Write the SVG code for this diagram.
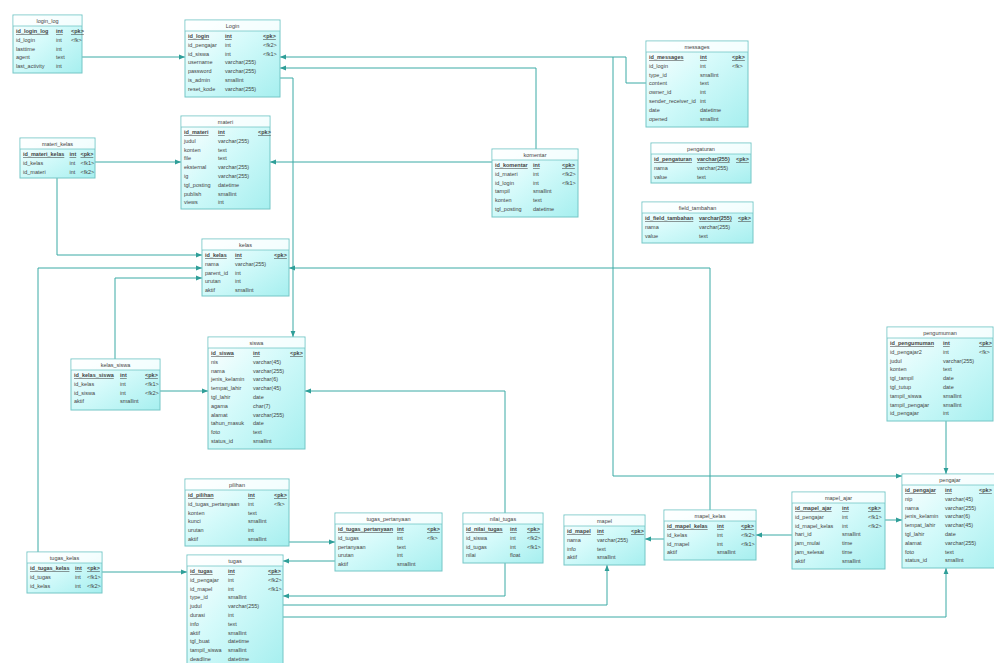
<svg xmlns="http://www.w3.org/2000/svg" width="994" height="663" viewBox="0 0 994 663">
<style>
.tb rect.box{fill:url(#g);stroke:#74c6c6;stroke-width:1}
.tb rect.hd{fill:#ffffff;fill-opacity:0.75;stroke:none}
.tb line{stroke:#74c6c6;stroke-width:0.8}
.tb text{font-family:"Liberation Sans",Arial,sans-serif;font-size:5.5px;fill:#444444}
.tb text.ttl{text-anchor:middle}
.tb text.pk{text-decoration:underline;font-weight:bold}
.conn path{fill:none;stroke:#3aaaa5;stroke-width:1;marker-end:url(#arr)}
</style>
<defs>
<linearGradient id="g" x1="0" y1="0" x2="1" y2="1">
<stop offset="0" stop-color="#ffffff"/>
<stop offset="0.45" stop-color="#d4fafa"/>
<stop offset="1" stop-color="#a6efef"/>
</linearGradient>
<marker id="arr" viewBox="0 0 10 10" refX="10" refY="5" markerWidth="6" markerHeight="6" markerUnits="userSpaceOnUse" orient="auto">
<path d="M0,1 L10,5 L0,9 z" fill="#2f9e98"/>
</marker>
</defs>
<rect width="994" height="663" fill="#ffffff"/>

<g class="conn" id="connectors">
<path d="M82,57 H185"/>
<path d="M646,83 H626 V57 H280"/>
<path d="M536,149 V68 H280"/>
<path d="M280,78 H293 V337"/>
<path d="M613,57 V476 H902"/>
<path d="M95,162 H181"/>
<path d="M492,162 H270"/>
<path d="M57,178 V255 H202"/>
<path d="M38,552 V268 H202"/>
<path d="M115,359 V278 H202"/>
<path d="M710,510 V268 H289"/>
<path d="M160,391 H208"/>
<path d="M505,513 V391 H305"/>
<path d="M289,542 H335"/>
<path d="M335,561 H283"/>
<path d="M102,572 H187"/>
<path d="M505,563 V596 H283"/>
<path d="M283,605 H607 V565"/>
<path d="M283,617 H946 V568"/>
<path d="M664,539 H645"/>
<path d="M792,535 H756"/>
<path d="M885,520 H902"/>
<path d="M946,421 V474"/>
</g>

<g class="tb" id="login_log">
<rect class="box" x="13" y="15" width="69" height="58"/>
<rect class="hd" x="13.5" y="15.5" width="68" height="10.5"/>
<line x1="13" y1="26" x2="82" y2="26"/>
<text class="ttl" x="47.5" y="23">login_log</text>
<text class="pk" x="16" y="33">id_login_log</text><text class="pk" x="56" y="33">int</text><text class="pk" x="71" y="33">&lt;pk&gt;</text>
<text x="16" y="41.8">id_login</text><text x="56" y="41.8">int</text><text x="71" y="41.8">&lt;fk&gt;</text>
<text x="16" y="50.6">lasttime</text><text x="56" y="50.6">int</text>
<text x="16" y="59.4">agent</text><text x="56" y="59.4">text</text>
<text x="16" y="68.2">last_activity</text><text x="56" y="68.2">int</text>
</g>

<g class="tb" id="login">
<rect class="box" x="185" y="20" width="95" height="77"/>
<rect class="hd" x="185.5" y="20.5" width="94" height="10.5"/>
<line x1="185" y1="31" x2="280" y2="31"/>
<text class="ttl" x="232.5" y="28">Login</text>
<text class="pk" x="188" y="38">id_login</text><text class="pk" x="225" y="38">int</text><text class="pk" x="263" y="38">&lt;pk&gt;</text>
<text x="188" y="46.8">id_pengajar</text><text x="225" y="46.8">int</text><text x="263" y="46.8">&lt;fk2&gt;</text>
<text x="188" y="55.6">id_siswa</text><text x="225" y="55.6">int</text><text x="263" y="55.6">&lt;fk1&gt;</text>
<text x="188" y="64.4">username</text><text x="225" y="64.4">varchar(255)</text>
<text x="188" y="73.2">password</text><text x="225" y="73.2">varchar(255)</text>
<text x="188" y="82">is_admin</text><text x="225" y="82">smallint</text>
<text x="188" y="90.8">reset_kode</text><text x="225" y="90.8">varchar(255)</text>
</g>

<g class="tb" id="messages">
<rect class="box" x="646" y="41" width="102" height="86"/>
<rect class="hd" x="646.5" y="41.5" width="101" height="10.5"/>
<line x1="646" y1="52" x2="748" y2="52"/>
<text class="ttl" x="697" y="49">messages</text>
<text class="pk" x="649" y="59">id_messages</text><text class="pk" x="700" y="59">int</text><text class="pk" x="732" y="59">&lt;pk&gt;</text>
<text x="649" y="67.8">id_login</text><text x="700" y="67.8">int</text><text x="732" y="67.8">&lt;fk&gt;</text>
<text x="649" y="76.6">type_id</text><text x="700" y="76.6">smallint</text>
<text x="649" y="85.4">content</text><text x="700" y="85.4">text</text>
<text x="649" y="94.2">owner_id</text><text x="700" y="94.2">int</text>
<text x="649" y="103">sender_receiver_id</text><text x="700" y="103">int</text>
<text x="649" y="111.8">date</text><text x="700" y="111.8">datetime</text>
<text x="649" y="120.6">opened</text><text x="700" y="120.6">smallint</text>
</g>

<g class="tb" id="materi_kelas">
<rect class="box" x="20" y="138" width="75" height="40"/>
<rect class="hd" x="20.5" y="138.5" width="74" height="10.5"/>
<line x1="20" y1="149" x2="95" y2="149"/>
<text class="ttl" x="57.5" y="146">materi_kelas</text>
<text class="pk" x="23" y="156">id_materi_kelas</text><text class="pk" x="69.5" y="156">int</text><text class="pk" x="80.5" y="156">&lt;pk&gt;</text>
<text x="23" y="164.8">id_kelas</text><text x="69.5" y="164.8">int</text><text x="80.5" y="164.8">&lt;fk1&gt;</text>
<text x="23" y="173.6">id_materi</text><text x="69.5" y="173.6">int</text><text x="80.5" y="173.6">&lt;fk2&gt;</text>
</g>

<g class="tb" id="materi">
<rect class="box" x="181" y="116" width="89" height="93"/>
<rect class="hd" x="181.5" y="116.5" width="88" height="10.5"/>
<line x1="181" y1="127" x2="270" y2="127"/>
<text class="ttl" x="225.5" y="124">materi</text>
<text class="pk" x="184" y="134">id_materi</text><text class="pk" x="218" y="134">int</text><text class="pk" x="258" y="134">&lt;pk&gt;</text>
<text x="184" y="142.8">judul</text><text x="218" y="142.8">varchar(255)</text>
<text x="184" y="151.6">konten</text><text x="218" y="151.6">text</text>
<text x="184" y="160.4">file</text><text x="218" y="160.4">text</text>
<text x="184" y="169.2">eksternal</text><text x="218" y="169.2">varchar(255)</text>
<text x="184" y="178">ig</text><text x="218" y="178">varchar(255)</text>
<text x="184" y="186.8">tgl_posting</text><text x="218" y="186.8">datetime</text>
<text x="184" y="195.6">publish</text><text x="218" y="195.6">smallint</text>
<text x="184" y="204.4">views</text><text x="218" y="204.4">int</text>
</g>

<g class="tb" id="komentar">
<rect class="box" x="492" y="149" width="86" height="68"/>
<rect class="hd" x="492.5" y="149.5" width="85" height="10.5"/>
<line x1="492" y1="160" x2="578" y2="160"/>
<text class="ttl" x="535" y="157">komentar</text>
<text class="pk" x="495" y="167">id_komentar</text><text class="pk" x="533" y="167">int</text><text class="pk" x="562" y="167">&lt;pk&gt;</text>
<text x="495" y="175.8">id_materi</text><text x="533" y="175.8">int</text><text x="562" y="175.8">&lt;fk2&gt;</text>
<text x="495" y="184.6">id_login</text><text x="533" y="184.6">int</text><text x="562" y="184.6">&lt;fk1&gt;</text>
<text x="495" y="193.4">tampil</text><text x="533" y="193.4">smallint</text>
<text x="495" y="202.2">konten</text><text x="533" y="202.2">text</text>
<text x="495" y="211">tgl_posting</text><text x="533" y="211">datetime</text>
</g>

<g class="tb" id="pengaturan">
<rect class="box" x="651" y="143" width="100" height="40"/>
<rect class="hd" x="651.5" y="143.5" width="99" height="10.5"/>
<line x1="651" y1="154" x2="751" y2="154"/>
<text class="ttl" x="701" y="151">pengaturan</text>
<text class="pk" x="654" y="161">id_pengaturan</text><text class="pk" x="697" y="161">varchar(255)</text><text class="pk" x="736" y="161">&lt;pk&gt;</text>
<text x="654" y="169.8">nama</text><text x="697" y="169.8">varchar(255)</text>
<text x="654" y="178.6">value</text><text x="697" y="178.6">text</text>
</g>

<g class="tb" id="field_tambahan">
<rect class="box" x="642" y="202" width="111" height="41"/>
<rect class="hd" x="642.5" y="202.5" width="110" height="10.5"/>
<line x1="642" y1="213" x2="753" y2="213"/>
<text class="ttl" x="697.5" y="210">field_tambahan</text>
<text class="pk" x="645" y="220">id_field_tambahan</text><text class="pk" x="699" y="220">varchar(255)</text><text class="pk" x="738" y="220">&lt;pk&gt;</text>
<text x="645" y="228.8">nama</text><text x="699" y="228.8">varchar(255)</text>
<text x="645" y="237.6">value</text><text x="699" y="237.6">text</text>
</g>

<g class="tb" id="kelas">
<rect class="box" x="202" y="239" width="87" height="57"/>
<rect class="hd" x="202.5" y="239.5" width="86" height="10.5"/>
<line x1="202" y1="250" x2="289" y2="250"/>
<text class="ttl" x="245.5" y="247">kelas</text>
<text class="pk" x="205" y="257">id_kelas</text><text class="pk" x="235" y="257">int</text><text class="pk" x="274" y="257">&lt;pk&gt;</text>
<text x="205" y="265.8">nama</text><text x="235" y="265.8">varchar(255)</text>
<text x="205" y="274.6">parent_id</text><text x="235" y="274.6">int</text>
<text x="205" y="283.4">urutan</text><text x="235" y="283.4">int</text>
<text x="205" y="292.2">aktif</text><text x="235" y="292.2">smallint</text>
</g>

<g class="tb" id="siswa">
<rect class="box" x="208" y="337" width="97" height="112"/>
<rect class="hd" x="208.5" y="337.5" width="96" height="10.5"/>
<line x1="208" y1="348" x2="305" y2="348"/>
<text class="ttl" x="256.5" y="345">siswa</text>
<text class="pk" x="211" y="355">id_siswa</text><text class="pk" x="253" y="355">int</text><text class="pk" x="290" y="355">&lt;pk&gt;</text>
<text x="211" y="363.8">nis</text><text x="253" y="363.8">varchar(45)</text>
<text x="211" y="372.6">nama</text><text x="253" y="372.6">varchar(255)</text>
<text x="211" y="381.4">jenis_kelamin</text><text x="253" y="381.4">varchar(6)</text>
<text x="211" y="390.2">tempat_lahir</text><text x="253" y="390.2">varchar(45)</text>
<text x="211" y="399">tgl_lahir</text><text x="253" y="399">date</text>
<text x="211" y="407.8">agama</text><text x="253" y="407.8">char(7)</text>
<text x="211" y="416.6">alamat</text><text x="253" y="416.6">varchar(255)</text>
<text x="211" y="425.4">tahun_masuk</text><text x="253" y="425.4">date</text>
<text x="211" y="434.2">foto</text><text x="253" y="434.2">text</text>
<text x="211" y="443">status_id</text><text x="253" y="443">smallint</text>
</g>

<g class="tb" id="kelas_siswa">
<rect class="box" x="71" y="359" width="89" height="51"/>
<rect class="hd" x="71.5" y="359.5" width="88" height="10.5"/>
<line x1="71" y1="370" x2="160" y2="370"/>
<text class="ttl" x="115.5" y="367">kelas_siswa</text>
<text class="pk" x="74" y="377">id_kelas_siswa</text><text class="pk" x="120" y="377">int</text><text class="pk" x="145" y="377">&lt;pk&gt;</text>
<text x="74" y="385.8">id_kelas</text><text x="120" y="385.8">int</text><text x="145" y="385.8">&lt;fk1&gt;</text>
<text x="74" y="394.6">id_siswa</text><text x="120" y="394.6">int</text><text x="145" y="394.6">&lt;fk2&gt;</text>
<text x="74" y="403.4">aktif</text><text x="120" y="403.4">smallint</text>
</g>

<g class="tb" id="pengumuman">
<rect class="box" x="887" y="327" width="106" height="94"/>
<rect class="hd" x="887.5" y="327.5" width="105" height="10.5"/>
<line x1="887" y1="338" x2="993" y2="338"/>
<text class="ttl" x="940" y="335">pengumuman</text>
<text class="pk" x="890" y="345">id_pengumuman</text><text class="pk" x="943" y="345">int</text><text class="pk" x="979" y="345">&lt;pk&gt;</text>
<text x="890" y="353.8">id_pengajar2</text><text x="943" y="353.8">int</text><text x="979" y="353.8">&lt;fk&gt;</text>
<text x="890" y="362.6">judul</text><text x="943" y="362.6">varchar(255)</text>
<text x="890" y="371.4">konten</text><text x="943" y="371.4">text</text>
<text x="890" y="380.2">tgl_tampil</text><text x="943" y="380.2">date</text>
<text x="890" y="389">tgl_tutup</text><text x="943" y="389">date</text>
<text x="890" y="397.8">tampil_siswa</text><text x="943" y="397.8">smallint</text>
<text x="890" y="406.6">tampil_pengajar</text><text x="943" y="406.6">smallint</text>
<text x="890" y="415.4">id_pengajar</text><text x="943" y="415.4">int</text>
</g>

<g class="tb" id="pengajar">
<rect class="box" x="902" y="474" width="102" height="94"/>
<rect class="hd" x="902.5" y="474.5" width="101" height="10.5"/>
<line x1="902" y1="485" x2="1004" y2="485"/>
<text class="ttl" x="950" y="482">pengajar</text>
<text class="pk" x="905" y="492">id_pengajar</text><text class="pk" x="945" y="492">int</text><text class="pk" x="979" y="492">&lt;pk&gt;</text>
<text x="905" y="500.8">nip</text><text x="945" y="500.8">varchar(45)</text>
<text x="905" y="509.6">nama</text><text x="945" y="509.6">varchar(255)</text>
<text x="905" y="518.4">jenis_kelamin</text><text x="945" y="518.4">varchar(6)</text>
<text x="905" y="527.2">tempat_lahir</text><text x="945" y="527.2">varchar(45)</text>
<text x="905" y="536">tgl_lahir</text><text x="945" y="536">date</text>
<text x="905" y="544.8">alamat</text><text x="945" y="544.8">varchar(255)</text>
<text x="905" y="553.6">foto</text><text x="945" y="553.6">text</text>
<text x="905" y="562.4">status_id</text><text x="945" y="562.4">smallint</text>
</g>

<g class="tb" id="mapel_ajar">
<rect class="box" x="792" y="492" width="93" height="77"/>
<rect class="hd" x="792.5" y="492.5" width="92" height="10.5"/>
<line x1="792" y1="503" x2="885" y2="503"/>
<text class="ttl" x="838.5" y="500">mapel_ajar</text>
<text class="pk" x="795" y="510">id_mapel_ajar</text><text class="pk" x="842" y="510">int</text><text class="pk" x="868" y="510">&lt;pk&gt;</text>
<text x="795" y="518.8">id_pengajar</text><text x="842" y="518.8">int</text><text x="868" y="518.8">&lt;fk1&gt;</text>
<text x="795" y="527.6">id_mapel_kelas</text><text x="842" y="527.6">int</text><text x="868" y="527.6">&lt;fk2&gt;</text>
<text x="795" y="536.4">hari_id</text><text x="842" y="536.4">smallint</text>
<text x="795" y="545.2">jam_mulai</text><text x="842" y="545.2">time</text>
<text x="795" y="554">jam_selesai</text><text x="842" y="554">time</text>
<text x="795" y="562.8">aktif</text><text x="842" y="562.8">smallint</text>
</g>

<g class="tb" id="mapel_kelas">
<rect class="box" x="664" y="510" width="92" height="50"/>
<rect class="hd" x="664.5" y="510.5" width="91" height="10.5"/>
<line x1="664" y1="521" x2="756" y2="521"/>
<text class="ttl" x="710" y="518">mapel_kelas</text>
<text class="pk" x="667" y="528">id_mapel_kelas</text><text class="pk" x="717" y="528">int</text><text class="pk" x="741" y="528">&lt;pk&gt;</text>
<text x="667" y="536.8">id_kelas</text><text x="717" y="536.8">int</text><text x="741" y="536.8">&lt;fk2&gt;</text>
<text x="667" y="545.6">id_mapel</text><text x="717" y="545.6">int</text><text x="741" y="545.6">&lt;fk1&gt;</text>
<text x="667" y="554.4">aktif</text><text x="717" y="554.4">smallint</text>
</g>

<g class="tb" id="mapel">
<rect class="box" x="564" y="515" width="81" height="50"/>
<rect class="hd" x="564.5" y="515.5" width="80" height="10.5"/>
<line x1="564" y1="526" x2="645" y2="526"/>
<text class="ttl" x="604.5" y="523">mapel</text>
<text class="pk" x="567" y="533">id_mapel</text><text class="pk" x="597" y="533">int</text><text class="pk" x="631" y="533">&lt;pk&gt;</text>
<text x="567" y="541.8">nama</text><text x="597" y="541.8">varchar(255)</text>
<text x="567" y="550.6">info</text><text x="597" y="550.6">text</text>
<text x="567" y="559.4">aktif</text><text x="597" y="559.4">smallint</text>
</g>

<g class="tb" id="nilai_tugas">
<rect class="box" x="463" y="513" width="80" height="50"/>
<rect class="hd" x="463.5" y="513.5" width="79" height="10.5"/>
<line x1="463" y1="524" x2="543" y2="524"/>
<text class="ttl" x="503" y="521">nilai_tugas</text>
<text class="pk" x="466" y="531">id_nilai_tugas</text><text class="pk" x="510" y="531">int</text><text class="pk" x="527" y="531">&lt;pk&gt;</text>
<text x="466" y="539.8">id_siswa</text><text x="510" y="539.8">int</text><text x="527" y="539.8">&lt;fk2&gt;</text>
<text x="466" y="548.6">id_tugas</text><text x="510" y="548.6">int</text><text x="527" y="548.6">&lt;fk1&gt;</text>
<text x="466" y="557.4">nilai</text><text x="510" y="557.4">float</text>
</g>

<g class="tb" id="tugas_pertanyaan">
<rect class="box" x="335" y="513" width="107" height="58"/>
<rect class="hd" x="335.5" y="513.5" width="106" height="10.5"/>
<line x1="335" y1="524" x2="442" y2="524"/>
<text class="ttl" x="388.5" y="521">tugas_pertanyaan</text>
<text class="pk" x="338" y="531">id_tugas_pertanyaan</text><text class="pk" x="397" y="531">int</text><text class="pk" x="427" y="531">&lt;pk&gt;</text>
<text x="338" y="539.8">id_tugas</text><text x="397" y="539.8">int</text><text x="427" y="539.8">&lt;fk&gt;</text>
<text x="338" y="548.6">pertanyaan</text><text x="397" y="548.6">text</text>
<text x="338" y="557.4">urutan</text><text x="397" y="557.4">int</text>
<text x="338" y="566.2">aktif</text><text x="397" y="566.2">smallint</text>
</g>

<g class="tb" id="pilihan">
<rect class="box" x="185" y="479" width="104" height="67"/>
<rect class="hd" x="185.5" y="479.5" width="103" height="10.5"/>
<line x1="185" y1="490" x2="289" y2="490"/>
<text class="ttl" x="237" y="487">pilihan</text>
<text class="pk" x="188" y="497">id_pilihan</text><text class="pk" x="248" y="497">int</text><text class="pk" x="274" y="497">&lt;pk&gt;</text>
<text x="188" y="505.8">id_tugas_pertanyaan</text><text x="248" y="505.8">int</text><text x="274" y="505.8">&lt;fk&gt;</text>
<text x="188" y="514.6">konten</text><text x="248" y="514.6">text</text>
<text x="188" y="523.4">kunci</text><text x="248" y="523.4">smallint</text>
<text x="188" y="532.2">urutan</text><text x="248" y="532.2">int</text>
<text x="188" y="541">aktif</text><text x="248" y="541">smallint</text>
</g>

<g class="tb" id="tugas_kelas">
<rect class="box" x="27" y="552" width="75" height="41"/>
<rect class="hd" x="27.5" y="552.5" width="74" height="10.5"/>
<line x1="27" y1="563" x2="102" y2="563"/>
<text class="ttl" x="64.5" y="560">tugas_kelas</text>
<text class="pk" x="30" y="570">id_tugas_kelas</text><text class="pk" x="75" y="570">int</text><text class="pk" x="87" y="570">&lt;pk&gt;</text>
<text x="30" y="578.8">id_tugas</text><text x="75" y="578.8">int</text><text x="87" y="578.8">&lt;fk1&gt;</text>
<text x="30" y="587.6">id_kelas</text><text x="75" y="587.6">int</text><text x="87" y="587.6">&lt;fk2&gt;</text>
</g>

<g class="tb" id="tugas">
<rect class="box" x="187" y="555" width="96" height="111"/>
<rect class="hd" x="187.5" y="555.5" width="95" height="10.5"/>
<line x1="187" y1="566" x2="283" y2="566"/>
<text class="ttl" x="235" y="563">tugas</text>
<text class="pk" x="190" y="573">id_tugas</text><text class="pk" x="228" y="573">int</text><text class="pk" x="268" y="573">&lt;pk&gt;</text>
<text x="190" y="581.8">id_pengajar</text><text x="228" y="581.8">int</text><text x="268" y="581.8">&lt;fk2&gt;</text>
<text x="190" y="590.6">id_mapel</text><text x="228" y="590.6">int</text><text x="268" y="590.6">&lt;fk1&gt;</text>
<text x="190" y="599.4">type_id</text><text x="228" y="599.4">smallint</text>
<text x="190" y="608.2">judul</text><text x="228" y="608.2">varchar(255)</text>
<text x="190" y="617">durasi</text><text x="228" y="617">int</text>
<text x="190" y="625.8">info</text><text x="228" y="625.8">text</text>
<text x="190" y="634.6">aktif</text><text x="228" y="634.6">smallint</text>
<text x="190" y="643.4">tgl_buat</text><text x="228" y="643.4">datetime</text>
<text x="190" y="652.2">tampil_siswa</text><text x="228" y="652.2">smallint</text>
<text x="190" y="661">deadline</text><text x="228" y="661">datetime</text>
</g>
</svg>
